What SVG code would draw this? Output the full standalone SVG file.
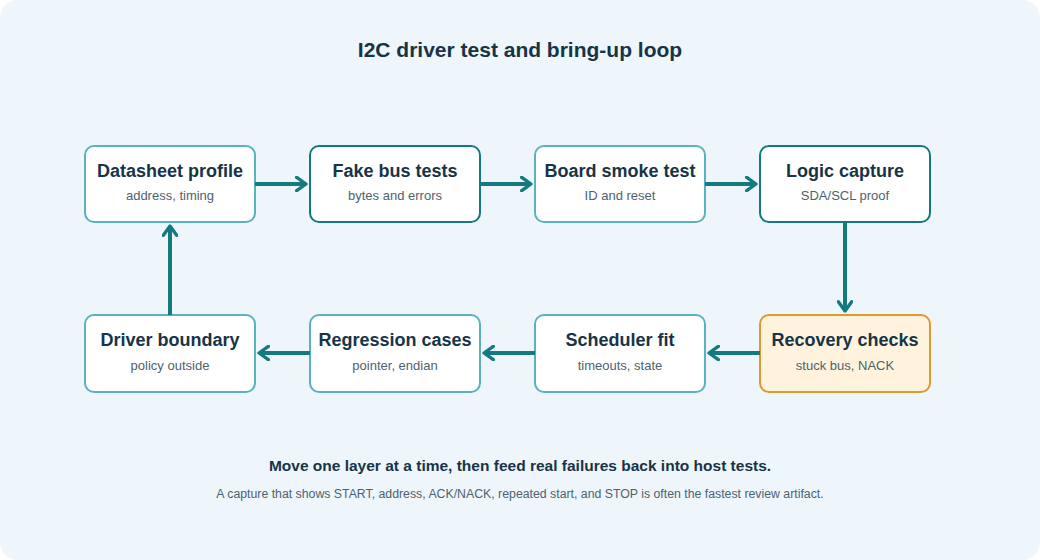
<svg xmlns="http://www.w3.org/2000/svg" width="1040" height="560" viewBox="0 0 1040 560">
<style>
.t{font-family:"Liberation Sans",Arial,sans-serif;font-weight:bold;font-size:18px;fill:#173447;text-anchor:middle}
.s{font-family:"Liberation Sans",Arial,sans-serif;font-size:13px;fill:#4d6270;text-anchor:middle}
.n{fill:#fff;stroke:#5ab3bc;stroke-width:2}
.d{stroke:#127a80}
.c{stroke:#137a80;stroke-width:4;fill:none;marker-end:url(#a)}
</style>
<defs><marker id="a" viewBox="0 0 12 12" refX="9" refY="6" markerWidth="4" markerHeight="4" orient="auto" markerUnits="strokeWidth"><path d="M2,1 L9,6 L2,11" fill="none" stroke="#137a80" stroke-width="2.5" stroke-linecap="round" stroke-linejoin="round"/></marker></defs>
<rect x="0" y="0" width="1040" height="560" rx="18" fill="#eef6fc"/>
<text x="520" y="57" class="t" style="font-size:21px">I2C driver test and bring-up loop</text>
<g id="n1"><rect class="n" x="85" y="146" width="170" height="76" rx="9"/><text class="t" x="170" y="177">Datasheet profile</text><text class="s" x="170" y="200">address, timing</text></g>
<g id="n2"><rect class="n d" x="310" y="146" width="170" height="76" rx="9"/><text class="t" x="395" y="177">Fake bus tests</text><text class="s" x="395" y="200">bytes and errors</text></g>
<g id="n3"><rect class="n" x="535" y="146" width="170" height="76" rx="9"/><text class="t" x="620" y="177">Board smoke test</text><text class="s" x="620" y="200">ID and reset</text></g>
<g id="n4"><rect class="n d" x="760" y="146" width="170" height="76" rx="9"/><text class="t" x="845" y="177">Logic capture</text><text class="s" x="845" y="200">SDA/SCL proof</text></g>
<g id="n5"><rect class="n" style="fill:#fff3de;stroke:#de9a2c" x="760" y="315" width="170" height="77" rx="9"/><text class="t" x="845" y="346">Recovery checks</text><text class="s" x="845" y="370">stuck bus, NACK</text></g>
<g id="n6"><rect class="n" x="535" y="315" width="170" height="77" rx="9"/><text class="t" x="620" y="346">Scheduler fit</text><text class="s" x="620" y="370">timeouts, state</text></g>
<g id="n7"><rect class="n" x="310" y="315" width="170" height="77" rx="9"/><text class="t" x="395" y="346">Regression cases</text><text class="s" x="395" y="370">pointer, endian</text></g>
<g id="n8"><rect class="n" x="85" y="315" width="170" height="77" rx="9"/><text class="t" x="170" y="346">Driver boundary</text><text class="s" x="170" y="370">policy outside</text></g>
<g id="connectors">
<path class="c" d="M255,184 H306"/>
<path class="c" d="M480,184 H531"/>
<path class="c" d="M705,184 H756"/>
<path class="c" d="M845,222 V311"/>
<path class="c" d="M760,353 H709"/>
<path class="c" d="M535,353 H484"/>
<path class="c" d="M310,353 H259"/>
<path class="c" d="M170,315 V226"/>
</g>
<text class="t" x="520" y="471" style="font-size:15.5px">Move one layer at a time, then feed real failures back into host tests.</text>
<text class="s" x="520" y="498" style="font-size:12.3px">A capture that shows START, address, ACK/NACK, repeated start, and STOP is often the fastest review artifact.</text>
</svg>
